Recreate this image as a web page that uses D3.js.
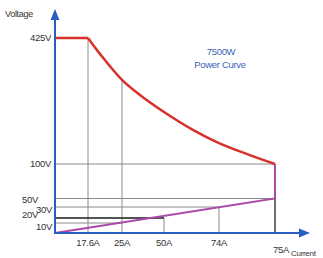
<!DOCTYPE html>
<html>
<head>
<meta charset="utf-8">
<script src="https://cdn.jsdelivr.net/npm/d3@7"></script>
<style>
  body { margin: 0; background: #fff; }
  text { font-family: "Liberation Sans", Arial, sans-serif; }
</style>
</head>
<body>
<div id="chart"></div>
<script>
// tick values (schematic axes, not to scale)
const currentTicks = [17.6, 25, 50, 74, 75];
const voltageTicks = [425, 100, 50, 30, 20, 10];

// red limit: flat 425V part, then the 7500W curve (current A, voltage V)
const flatPart = [[0, 425], [17.6, 425]];
const powerCurve = [
  [17.6, 425], [20.2, 384], [25, 317], [35.7, 278], [50, 234],
  [62.6, 188], [74, 154], [74.55, 123], [75, 100]
];
// purple line
const purpleLine = [[0, 0], [75, 50], [75, 100]];

// guide lines: [current, voltage] corners
const vGuides = [[17.6, 425], [25, 317], [50, 20], [74, 30]];
const hGuides = [[100, 75], [50, 75], [30, 74], [10, 25]];

const width = 323, height = 258;
const blue = "#2b5cc2";

const svg = d3.select("#chart")
  .append("svg")
  .attr("width", width)
  .attr("height", height);

// piecewise scales because the original drawing is schematic
const x = d3.scaleLinear()
  .domain([0, 17.6, 25, 50, 74, 75])
  .range([55, 88, 122, 164, 219, 275]);
const y = d3.scaleLinear()
  .domain([0, 10, 20, 30, 50, 100, 425])
  .range([233, 223, 218, 207, 198.5, 164, 38]);

// vertical guides
svg.selectAll(".vg")
  .data(vGuides)
  .enter().append("line")
  .attr("x1", d => x(d[0])).attr("x2", d => x(d[0]))
  .attr("y1", y(0)).attr("y2", d => y(d[1]))
  .attr("stroke", "#8a8a8a").attr("stroke-width", 1);

// horizontal guides
svg.selectAll(".hg")
  .data(hGuides)
  .enter().append("line")
  .attr("x1", x(0)).attr("x2", d => x(d[1]))
  .attr("y1", d => y(d[0])).attr("y2", d => y(d[0]))
  .attr("stroke", "#8a8a8a").attr("stroke-width", 1);

// dark 20V line and 75A line
svg.append("line")
  .attr("x1", x(0)).attr("x2", x(50))
  .attr("y1", y(20)).attr("y2", y(20))
  .attr("stroke", "#1a1a1a").attr("stroke-width", 1.6);
svg.append("line")
  .attr("x1", x(75)).attr("x2", x(75))
  .attr("y1", y(0)).attr("y2", y(50))
  .attr("stroke", "#333").attr("stroke-width", 1.4);

const line = d3.line()
  .x(d => x(d[0]))
  .y(d => y(d[1]));

// purple line
svg.append("path")
  .datum(purpleLine)
  .attr("d", line)
  .attr("fill", "none")
  .attr("stroke", "#a94aa8")
  .attr("stroke-width", 2);

// red limit
svg.append("path")
  .datum(flatPart)
  .attr("d", line)
  .attr("fill", "none")
  .attr("stroke", "#d8302b")
  .attr("stroke-width", 2.5);
svg.append("path")
  .datum(powerCurve)
  .attr("d", d3.line().x(d => x(d[0])).y(d => y(d[1])).curve(d3.curveCatmullRom.alpha(0.5)))
  .attr("fill", "none")
  .attr("stroke", "#d8302b")
  .attr("stroke-width", 2.5);

// axes with arrows
svg.append("line")
  .attr("x1", x(0)).attr("x2", x(0))
  .attr("y1", y(0) + 1).attr("y2", 19)
  .attr("stroke", blue).attr("stroke-width", 2);
svg.append("path")
  .attr("d", `M${x(0)},9 L${x(0) - 4.5},20 L${x(0) + 4.5},20 Z`)
  .attr("fill", blue);
svg.append("line")
  .attr("x1", x(0) - 1).attr("x2", 300)
  .attr("y1", y(0)).attr("y2", y(0))
  .attr("stroke", blue).attr("stroke-width", 2);
svg.append("path")
  .attr("d", `M310,${y(0)} L299,${y(0) - 4.5} L299,${y(0) + 4.5} Z`)
  .attr("fill", blue);

// voltage labels (offsets to avoid overlap, like the original)
const vOffset = { 425: [-4, 0], 100: [-4, 0], 50: [-17, 1], 30: [-3, 3], 20: [-17, -3], 10: [-3, 4] };
svg.selectAll(".vl")
  .data(voltageTicks)
  .enter().append("text")
  .attr("x", d => x(0) + vOffset[d][0])
  .attr("y", d => y(d) + vOffset[d][1])
  .attr("dy", "0.35em")
  .attr("text-anchor", "end")
  .attr("font-size", "9.5px")
  .attr("letter-spacing", "-0.3px")
  .attr("fill", "#333")
  .text(d => d + "V");

// current labels
svg.selectAll(".cl")
  .data(currentTicks)
  .enter().append("text")
  .attr("x", d => x(d) + (d === 75 ? 6 : 0))
  .attr("y", d => d === 75 ? 253 : 246)
  .attr("text-anchor", "middle")
  .attr("font-size", "9.5px")
  .attr("letter-spacing", "-0.3px")
  .attr("fill", "#333")
  .text(d => d + "A");

// axis titles
svg.append("text")
  .attr("x", 5).attr("y", 17)
  .attr("font-size", "9px")
  .attr("letter-spacing", "-0.3px")
  .attr("fill", "#333")
  .text("Voltage");
svg.append("text")
  .attr("x", 291).attr("y", 256)
  .attr("font-size", "8px")
  .attr("letter-spacing", "-0.3px")
  .attr("fill", "#333")
  .text("Current");

// annotation
svg.append("text")
  .attr("x", 221).attr("y", 55)
  .attr("text-anchor", "middle")
  .attr("font-size", "9.5px")
  .attr("letter-spacing", "-0.3px")
  .attr("fill", "#3b5fb5")
  .text("7500W");
svg.append("text")
  .attr("x", 220).attr("y", 68)
  .attr("text-anchor", "middle")
  .attr("font-size", "9.5px")
  .attr("letter-spacing", "-0.3px")
  .attr("fill", "#3b5fb5")
  .text("Power Curve");
</script>
</body>
</html>
